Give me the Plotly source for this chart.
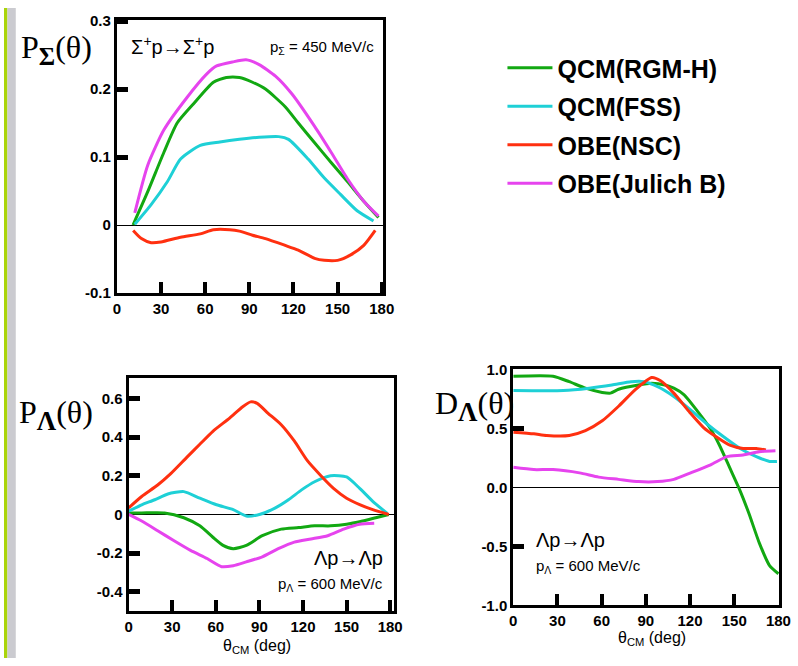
import plotly.graph_objects as go

W, H = 798, 666

# ---------------- data: Sigma+ p -> Sigma+ p, P_Sigma ----------------
sig_th_rgm = [11, 21, 32, 41, 52, 65.6, 74.4, 83.3, 92.2, 101, 114.4, 123.3, 134.4, 145.6, 156.7, 167.8, 177.8]
sig_rgm = [0.0, 0.049, 0.107, 0.150, 0.178, 0.210, 0.217, 0.217, 0.210, 0.200, 0.174, 0.150, 0.121, 0.092, 0.064, 0.035, 0.011]
sig_th_fss = [12.2, 23.3, 34.4, 43.3, 56.7, 70, 83.3, 96.7, 110, 116.7, 130, 141, 152, 163.3, 174.4]
sig_fss = [0.001, 0.030, 0.064, 0.097, 0.117, 0.122, 0.126, 0.129, 0.130, 0.126, 0.097, 0.069, 0.045, 0.021, 0.006]
sig_th_nsc = [11.1, 16.7, 23.3, 30, 43.3, 56.7, 65.6, 76.7, 83.3, 92.2, 101, 114.4, 123.3, 134.4, 141, 150, 158.9, 167.8, 175.6]
sig_nsc = [-0.008, -0.020, -0.026, -0.025, -0.018, -0.013, -0.007, -0.007, -0.009, -0.015, -0.020, -0.030, -0.037, -0.049, -0.052, -0.052, -0.044, -0.030, -0.008]
sig_th_jul = [12.2, 21, 32, 47.8, 61, 67.8, 78.9, 87.8, 96.7, 107.8, 118.9, 134.4, 145.6, 156.7, 167.8, 177.8]
sig_jul = [0.018, 0.088, 0.140, 0.188, 0.222, 0.234, 0.240, 0.243, 0.236, 0.219, 0.193, 0.145, 0.107, 0.068, 0.035, 0.013]

# ---------------- data: Lambda p -> Lambda p, P_Lambda ----------------
pl_th_rgm = [0, 9, 24.7, 38, 49, 58, 65, 72, 81, 92, 105, 117, 128, 139, 150, 161, 170, 179]
pl_rgm = [0.008, 0.008, 0.008, -0.017, -0.059, -0.118, -0.160, -0.177, -0.160, -0.110, -0.076, -0.068, -0.059, -0.059, -0.051, -0.034, -0.017, 0.0]
pl_th_fss = [0, 9, 18, 27, 38, 49, 60.5, 72, 81, 90, 101, 110, 119, 128, 139, 150, 159, 168, 178]
pl_fss = [0.017, 0.050, 0.076, 0.106, 0.118, 0.084, 0.050, 0.025, -0.008, 0.0, 0.034, 0.076, 0.127, 0.169, 0.200, 0.194, 0.135, 0.068, 0.005]
pl_th_nsc = [0, 9, 20, 29, 40, 49, 58, 69.5, 78.5, 84, 88.5, 96, 105, 114, 123, 132, 141, 150, 159, 168, 179]
pl_nsc = [0.034, 0.093, 0.152, 0.211, 0.295, 0.363, 0.430, 0.498, 0.557, 0.582, 0.574, 0.523, 0.464, 0.380, 0.278, 0.203, 0.135, 0.084, 0.051, 0.025, 0.0]
pl_th_jul = [0, 9, 20, 31, 42.6, 54, 64, 72, 81, 92, 103, 114, 125.5, 137, 148, 159, 169]
pl_jul = [0.0, -0.034, -0.084, -0.135, -0.186, -0.228, -0.270, -0.265, -0.245, -0.219, -0.177, -0.143, -0.127, -0.110, -0.076, -0.051, -0.046]

# ---------------- data: Lambda p -> Lambda p, D_Lambda ----------------
dl_th_rgm = [0, 27, 38, 49, 60.4, 66, 71.5, 85, 94, 103, 109, 116, 125, 134, 140, 147, 154, 160, 167, 174, 180]
dl_rgm = [0.945, 0.945, 0.898, 0.843, 0.807, 0.801, 0.834, 0.870, 0.884, 0.870, 0.843, 0.787, 0.649, 0.497, 0.359, 0.166, -0.028, -0.221, -0.470, -0.663, -0.732]
dl_th_fss = [0, 34, 51.5, 67, 80, 89, 98, 109, 120, 131.5, 143, 154, 165, 174, 179]
dl_fss = [0.823, 0.823, 0.843, 0.870, 0.898, 0.898, 0.856, 0.773, 0.663, 0.539, 0.428, 0.331, 0.262, 0.221, 0.221]
dl_th_nsc = [0, 14, 22.7, 38, 49, 60.4, 71.5, 82.7, 94, 100, 109, 120, 129, 138, 147, 156, 165, 171.5]
dl_nsc = [0.470, 0.456, 0.442, 0.442, 0.483, 0.566, 0.690, 0.829, 0.934, 0.906, 0.801, 0.635, 0.511, 0.428, 0.359, 0.331, 0.331, 0.318]
dl_th_jul = [0, 14, 27, 45, 58, 71.5, 85, 98, 109, 120.4, 134, 145, 156, 167, 178]
dl_jul = [0.171, 0.152, 0.152, 0.124, 0.088, 0.069, 0.050, 0.050, 0.069, 0.124, 0.193, 0.262, 0.276, 0.304, 0.312]

models = ["QCM(RGM-H)", "QCM(FSS)", "OBE(NSC)", "OBE(Julich B)"]
colors = ["#12a812", "#1ed0d6", "#ff3010", "#e644ee"]

x_ticks = [0, 30, 60, 90, 120, 150, 180]
sig_ytick_vals = [-0.1, 0, 0.1, 0.2, 0.3]
sig_ytick_text = ["-0.1", "0", "0.1", "0.2", "0.3"]
sig_ymarks = [0.1, 0.2, 0.3]
pl_ytick_vals = [-0.4, -0.2, 0, 0.2, 0.4, 0.6]
pl_ytick_text = ["-0.4", "-0.2", "0", "0.2", "0.4", "0.6"]
pl_ymarks = [-0.4, -0.2, 0.2, 0.4, 0.6]
dl_ytick_vals = [-1.0, -0.5, 0.0, 0.5, 1.0]
dl_ytick_text = ["-1.0", "-0.5", "0.0", "0.5", "1.0"]
dl_ymarks = [-0.5, 0.5, 1.0]


def px(x):
    return x / W


def py(y):
    return 1 - y / H


panels = [
    ("x", "y", [(sig_th_rgm, sig_rgm), (sig_th_fss, sig_fss), (sig_th_nsc, sig_nsc), (sig_th_jul, sig_jul)]),
    ("x2", "y2", [(pl_th_rgm, pl_rgm), (pl_th_fss, pl_fss), (pl_th_nsc, pl_nsc), (pl_th_jul, pl_jul)]),
    ("x3", "y3", [(dl_th_rgm, dl_rgm), (dl_th_fss, dl_fss), (dl_th_nsc, dl_nsc), (dl_th_jul, dl_jul)]),
]

fig = go.Figure()
for pi, (xa, ya, series) in enumerate(panels):
    for si, (th, val) in enumerate(series):
        fig.add_trace(go.Scatter(
            x=th, y=val, xaxis=xa, yaxis=ya, mode="lines",
            line=dict(color=colors[si], width=3, shape="spline", smoothing=0.6),
            name=models[si], legendgroup=models[si], showlegend=(pi == 0),
            hoverinfo="skip",
        ))

# empty helper traces so the tick-only overlay axes get drawn
for xa, ya in [("x", "y4"), ("x2", "y5"), ("x3", "y6")]:
    fig.add_trace(go.Scatter(x=[None], y=[None], xaxis=xa, yaxis=ya, mode="lines",
                             showlegend=False, hoverinfo="skip"))

tickfont = dict(family="Liberation Sans, Arial", size=15, color="black", weight="bold")


def xaxis(dom, rng, anchor):
    return dict(domain=dom, range=rng, anchor=anchor, showgrid=False, zeroline=False,
                showline=True, mirror=True, linecolor="black", linewidth=3,
                tickvals=x_ticks, ticks="inside", ticklen=11, tickwidth=3.5, tickcolor="black",
                tickfont=tickfont)


def yaxis(dom, rng, anchor, tv, tt):
    return dict(domain=dom, range=rng, anchor=anchor, showgrid=False, zeroline=True,
                zerolinecolor="black", zerolinewidth=1,
                showline=True, mirror=True, linecolor="black", linewidth=3,
                tickvals=tv, ticktext=tt, ticks="", tickfont=tickfont)


def ytickaxis(over, rng, anchor, tv):
    return dict(overlaying=over, range=rng, anchor=anchor, showgrid=False, zeroline=False,
                showline=False, tickvals=tv, ticks="inside", ticklen=11, tickwidth=5,
                tickcolor="black", showticklabels=False)


d1x = [px(115), px(386)]
d1y = [py(292), py(12)]
d2x = [px(127), px(397)]
d2y = [py(618), py(379)]
d3x = [px(519), px(790)]
d3y = [py(612), py(370)]

r1x, r1y = [0, 180.7], [-0.1, 0.302]
r2x, r2y = [0, 182.3], [-0.5, 0.706]
r3x, r3y = [0, 180.5], [-1.0, 1.005]

annos = []


def ann(text, x, y, size, xanchor="left", family="Liberation Sans, Arial", yanchor="middle"):
    annos.append(dict(text=text, x=px(x), y=py(y), xref="paper", yref="paper",
                      xanchor=xanchor, yanchor=yanchor, showarrow=False,
                      font=dict(family=family, size=size, color="black")))


serif = "Liberation Serif, Times New Roman, serif"
ann("P<sub><span style='font-size:25px'><b>Σ</b></span></sub>(θ)", 15, 43, 32, family=serif)
ann("P<sub><span style='font-size:27px'><b>Λ</b></span></sub>(θ)", 13, 417, 32, family=serif)
ann("D<sub><span style='font-size:27px'><b>Λ</b></span></sub>(θ)", 437, 408, 32, family=serif)
ann("Σ<sup>+</sup>p→Σ<sup>+</sup>p", 127, 38, 20)
ann("p<sub>Σ</sub> = 450 MeV/c", 379, 40, 15, xanchor="right")
ann("Λp→Λp", 388, 564, 20, xanchor="right")
ann("p<sub>Λ</sub> = 600 MeV/c", 388, 591, 15, xanchor="right")
ann("Λp→Λp", 540, 545, 20)
ann("p<sub>Λ</sub> = 600 MeV/c", 540, 572, 15)
ann("θ<sub>CM</sub> (deg)", 258, 654, 16, xanchor="center")
ann("θ<sub>CM</sub> (deg)", 660, 646, 16, xanchor="center")

shapes = [
    dict(type="rect", xref="paper", yref="paper", x0=0, x1=px(3.5), y0=0, y1=1,
         fillcolor="#aad40a", line=dict(width=0), layer="below"),
    dict(type="rect", xref="paper", yref="paper", x0=px(3.5), x1=px(12), y0=0, y1=1,
         fillcolor="#cbcbd0", line=dict(width=0), layer="below"),
]

fig.update_layout(
    width=W, height=H, margin=dict(l=0, r=0, t=0, b=0),
    paper_bgcolor="white", plot_bgcolor="rgba(0,0,0,0)",
    xaxis=xaxis(d1x, r1x, "y"),
    yaxis=yaxis(d1y, r1y, "x", sig_ytick_vals, sig_ytick_text),
    xaxis2=xaxis(d2x, r2x, "y2"),
    yaxis2=yaxis(d2y, r2y, "x2", pl_ytick_vals, pl_ytick_text),
    xaxis3=xaxis(d3x, r3x, "y3"),
    yaxis3=yaxis(d3y, r3y, "x3", dl_ytick_vals, dl_ytick_text),
    yaxis4=ytickaxis("y", r1y, "x", sig_ymarks),
    yaxis5=ytickaxis("y2", r2y, "x2", pl_ymarks),
    yaxis6=ytickaxis("y3", r3y, "x3", dl_ymarks),
    legend=dict(x=px(508), y=py(38), xanchor="left", yanchor="top",
                font=dict(family="Liberation Sans, Arial", size=25, color="black", weight="bold"),
                bgcolor="rgba(0,0,0,0)", tracegroupgap=3, itemwidth=45),
    annotations=annos, shapes=shapes,
)

fig.write_html("out.html")
